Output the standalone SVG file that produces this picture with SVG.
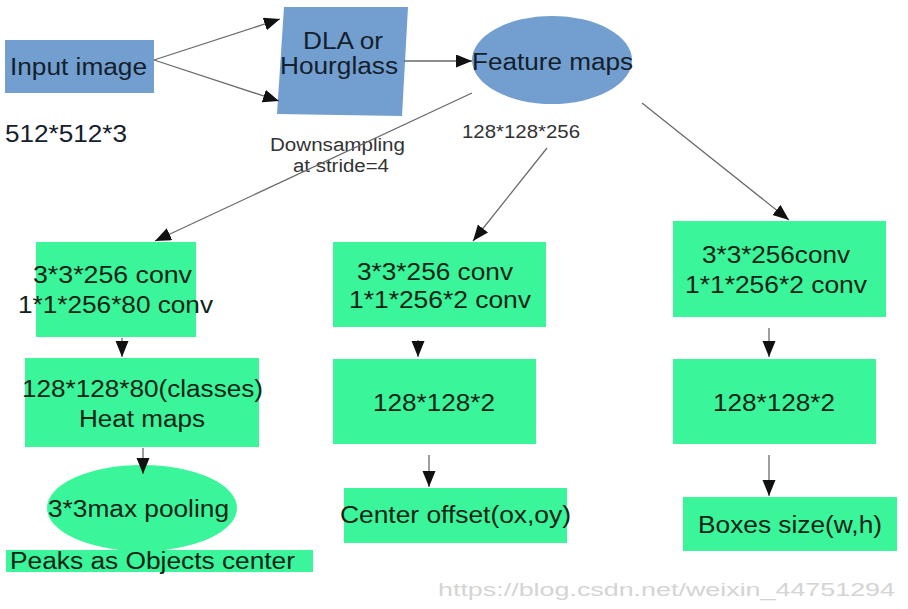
<svg xmlns="http://www.w3.org/2000/svg" width="908" height="609" viewBox="0 0 908 609">
<style>
.blue{fill:#729fcf;}
.green{fill:#3bf59a;}
.t{font-family:"Liberation Sans",Arial,sans-serif;font-size:23px;fill:#14202c;}
.tg{font-family:"Liberation Sans",Arial,sans-serif;font-size:23px;fill:#0c2416;}
.lbl{font-family:"Liberation Sans",Arial,sans-serif;font-size:18px;fill:#333;}
.wm{font-family:"Liberation Sans",Arial,sans-serif;font-size:19px;fill:#d4d4d4;}
.c{stroke:#6a6a6a;stroke-width:1.3;fill:none;marker-end:url(#ah);}
</style>
<defs>
<marker id="ah" markerUnits="userSpaceOnUse" markerWidth="18" markerHeight="14" refX="16" refY="6.5" orient="auto">
<path d="M0,0 L16,6.5 L0,13 Z" fill="#111"/>
</marker>
</defs>
<rect width="908" height="609" fill="#fff"/>

<g id="input-image">
<rect class="blue" x="5" y="40" width="149" height="53"/>
<text class="t" x="10" y="75" textLength="137" lengthAdjust="spacingAndGlyphs">Input image</text>
</g>
<g id="input-size">
<text class="t" x="5" y="142" textLength="122" lengthAdjust="spacingAndGlyphs">512*512*3</text>
</g>
<g id="dla">
<polygon class="blue" points="284,7 408,7 402,116 277,114"/>
<text class="t" x="303" y="49" textLength="80" lengthAdjust="spacingAndGlyphs">DLA or</text>
<text class="t" x="280" y="74" textLength="118" lengthAdjust="spacingAndGlyphs">Hourglass</text>
</g>
<g id="feature-maps">
<ellipse class="blue" cx="552" cy="60" rx="80" ry="44"/>
<text class="t" x="472" y="70" textLength="161" lengthAdjust="spacingAndGlyphs">Feature maps</text>
</g>
<g id="downsampling-label">
<text class="lbl" x="270" y="151" textLength="135" lengthAdjust="spacingAndGlyphs">Downsampling</text>
<text class="lbl" x="293" y="172" textLength="96" lengthAdjust="spacingAndGlyphs">at stride=4</text>
</g>
<g id="feature-size">
<text class="lbl" x="462" y="138" textLength="118" lengthAdjust="spacingAndGlyphs">128*128*256</text>
</g>

<g id="heat-conv">
<rect class="green" x="36" y="242" width="160" height="95"/>
<text class="tg" x="33" y="283" textLength="159" lengthAdjust="spacingAndGlyphs">3*3*256 conv</text>
<text class="tg" x="18" y="313" textLength="195" lengthAdjust="spacingAndGlyphs">1*1*256*80 conv</text>
</g>
<g id="heat-maps">
<rect class="green" x="25" y="358" width="234" height="89"/>
<text class="tg" x="22" y="397" textLength="241" lengthAdjust="spacingAndGlyphs">128*128*80(classes)</text>
<text class="tg" x="79" y="427" textLength="126" lengthAdjust="spacingAndGlyphs">Heat maps</text>
</g>
<g id="max-pooling">
<ellipse class="green" cx="142" cy="508" rx="95" ry="43"/>
<text class="tg" x="48" y="517" textLength="181" lengthAdjust="spacingAndGlyphs">3*3max pooling</text>
</g>
<g id="peaks">
<rect class="green" x="6" y="550" width="307" height="22"/>
<text class="tg" x="10" y="569" textLength="285" lengthAdjust="spacingAndGlyphs">Peaks as Objects center</text>
</g>

<g id="offset-conv">
<rect class="green" x="333" y="242" width="213" height="85"/>
<text class="tg" x="357" y="280" textLength="156" lengthAdjust="spacingAndGlyphs">3*3*256 conv</text>
<text class="tg" x="349" y="308" textLength="182" lengthAdjust="spacingAndGlyphs">1*1*256*2 conv</text>
</g>
<g id="offset-map">
<rect class="green" x="333" y="359" width="203" height="85"/>
<text class="tg" x="373" y="411" textLength="122" lengthAdjust="spacingAndGlyphs">128*128*2</text>
</g>
<g id="center-offset">
<rect class="green" x="344" y="488" width="223" height="55"/>
<text class="tg" x="340" y="523" textLength="231" lengthAdjust="spacingAndGlyphs">Center offset(ox,oy)</text>
</g>

<g id="size-conv">
<rect class="green" x="673" y="221" width="213" height="96"/>
<text class="tg" x="702" y="263" textLength="148" lengthAdjust="spacingAndGlyphs">3*3*256conv</text>
<text class="tg" x="685" y="293" textLength="182" lengthAdjust="spacingAndGlyphs">1*1*256*2 conv</text>
</g>
<g id="size-map">
<rect class="green" x="673" y="359" width="203" height="85"/>
<text class="tg" x="713" y="411" textLength="122" lengthAdjust="spacingAndGlyphs">128*128*2</text>
</g>
<g id="boxes-size">
<rect class="green" x="683" y="497" width="214" height="54"/>
<text class="tg" x="698" y="533" textLength="184" lengthAdjust="spacingAndGlyphs">Boxes size(w,h)</text>
</g>

<g id="connectors">
<line class="c" x1="154" y1="60" x2="280" y2="19"/>
<line class="c" x1="154" y1="60" x2="279" y2="101"/>
<line class="c" x1="404" y1="61" x2="472" y2="61"/>
<line class="c" x1="472" y1="93" x2="155" y2="241"/>
<line class="c" x1="547" y1="148" x2="473" y2="241"/>
<line class="c" x1="642" y1="103" x2="789" y2="220"/>
<line class="c" x1="122" y1="338" x2="122" y2="357"/>
<line class="c" x1="143" y1="448" x2="143" y2="474"/>
<line class="c" x1="418" y1="340" x2="418" y2="357"/>
<line class="c" x1="429" y1="455" x2="429" y2="487"/>
<line class="c" x1="769" y1="328" x2="769" y2="357"/>
<line class="c" x1="769" y1="455" x2="769" y2="496"/>
</g>

<g id="watermark">
<text class="wm" x="438" y="596" textLength="457" lengthAdjust="spacingAndGlyphs">https://blog.csdn.net/weixin_44751294</text>
</g>
</svg>
